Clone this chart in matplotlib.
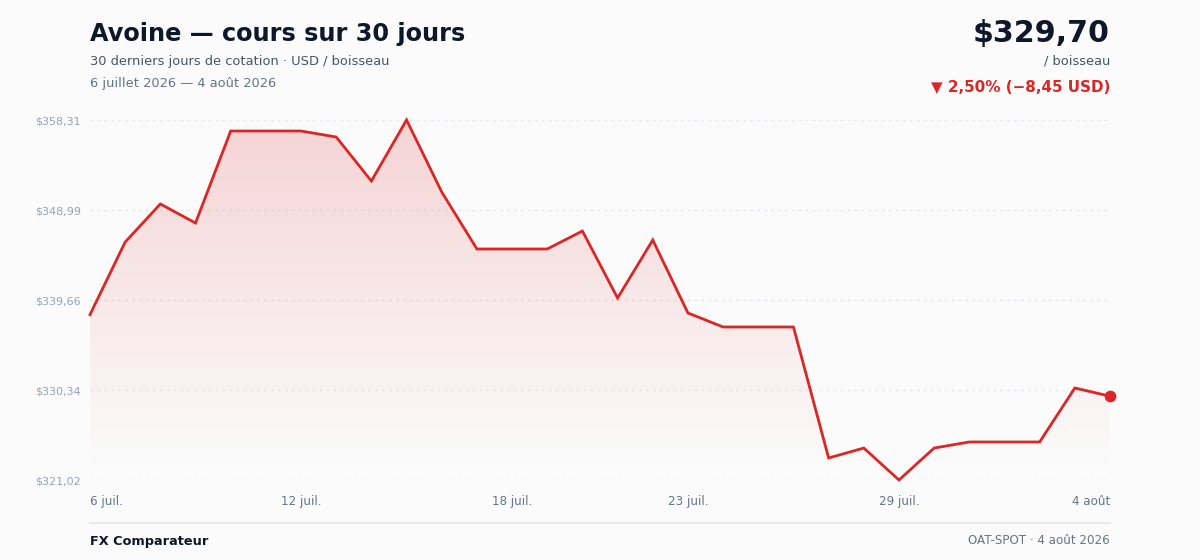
import numpy as np
import matplotlib
matplotlib.use("Agg")
import matplotlib.pyplot as plt
from matplotlib.colors import to_rgb

# 30 daily closes, 6 juillet -> 4 aout 2026
prices = [338.15, 345.67, 349.61, 347.64, 357.17, 357.17, 357.17, 356.55, 351.99, 358.31,
          350.85, 344.95, 344.95, 344.95, 346.81, 339.87, 345.88, 338.32, 336.87, 336.87,
          336.87, 323.30, 324.33, 321.02, 324.33, 324.96, 324.96, 324.96, 330.55, 329.70]
tick_idx = [0, 6, 12, 17, 23, 29]
tick_labels = ["6 juil.", "12 juil.", "18 juil.", "23 juil.", "29 juil.", "4 août"]

RED = "#dc2626"
BG = "#fbfbfb"
W, H = 1200, 560

fig = plt.figure(figsize=(12, 5.6), dpi=100, facecolor=BG)
ax = fig.add_axes([90 / W, 1 - 480 / H, 1020 / W, 360 / H])
ax.set_facecolor(BG)

x = np.arange(len(prices))
lo, hi = min(prices), max(prices)
ax.set_xlim(0, len(prices) - 1)
ax.set_ylim(lo, hi)

# gradient fill under the line
r, g, b = to_rgb(RED)
grad = np.zeros((100, 1, 4))
grad[:, 0, 0], grad[:, 0, 1], grad[:, 0, 2] = r, g, b
grad[:, 0, 3] = np.linspace(0.2, 0.0, 100) ** 1.05
img = ax.imshow(grad, aspect="auto", extent=[0, len(prices) - 1, lo, hi],
                origin="upper", zorder=1)
poly = ax.fill_between(x, prices, lo, color="none", lw=0)
img.set_clip_path(poly.get_paths()[0], transform=ax.transData)

ax.plot(x, prices, color=RED, lw=2, zorder=3, clip_on=False, solid_joinstyle="miter")
ax.scatter([x[-1]], [prices[-1]], s=55, color=RED, zorder=4, clip_on=False)

yt = np.linspace(lo, hi, 5)
for v in yt:
    ax.axhline(v, color="#e2e8f0", lw=1, ls=(0, (2, 3)), zorder=0)
ax.set_yticks(yt)
ax.set_yticklabels(["$" + f"{v:.2f}".replace(".", ",") for v in yt],
                   fontsize=8, color="#94a3b8")
ax.set_xticks(tick_idx)
ax.set_xticklabels(tick_labels, fontsize=8.6, color="#64748b")
xl = ax.get_xticklabels()
xl[0].set_ha("left")
xl[-1].set_ha("right")
ax.tick_params(axis="both", length=0)
ax.tick_params(axis="x", pad=11)
ax.tick_params(axis="y", pad=6.5)
for s in ax.spines.values():
    s.set_visible(False)

# header
fig.text(90 / W, 1 - 34 / H, "Avoine — cours sur 30 jours", fontsize=17.3,
         fontweight="bold", color="#0f172a", va="center")
fig.text(90 / W, 1 - 61 / H, "30 derniers jours de cotation · USD / boisseau",
         fontsize=9.4, color="#475569", va="center")
fig.text(90 / W, 1 - 83 / H, "6 juillet 2026 — 4 août 2026",
         fontsize=9.4, color="#64748b", va="center")
fig.text(1110 / W, 1 - 33.5 / H, "$" + f"{prices[-1]:.2f}".replace(".", ","),
         fontsize=21.7, fontweight="bold", color="#0f172a", va="center", ha="right")
fig.text(1110 / W, 1 - 61 / H, "/ boisseau", fontsize=9.4, color="#475569",
         va="center", ha="right")
chg = prices[-1] - prices[0]
pct = chg / prices[0] * 100
fig.text(1110 / W, 1 - 87 / H,
         "▼ " + f"{abs(pct):.2f}%".replace(".", ",") + " (−" + f"{abs(chg):.2f}".replace(".", ",") + " USD)",
         fontsize=10.9, fontweight="bold", color=RED, va="center", ha="right")

# footer
fig.add_artist(plt.Line2D([90 / W, 1110 / W], [1 - 523 / H, 1 - 523 / H],
                          color="#e5e7eb", lw=1.2))
fig.text(90 / W, 1 - 541 / H, "FX Comparateur", fontsize=9.3, fontweight="bold",
         color="#0f172a", va="center")
fig.text(1110 / W, 1 - 541 / H, "OAT-SPOT · 4 août 2026", fontsize=8.6,
         color="#64748b", va="center", ha="right")

fig.savefig("out.png", dpi=100, facecolor=BG)
